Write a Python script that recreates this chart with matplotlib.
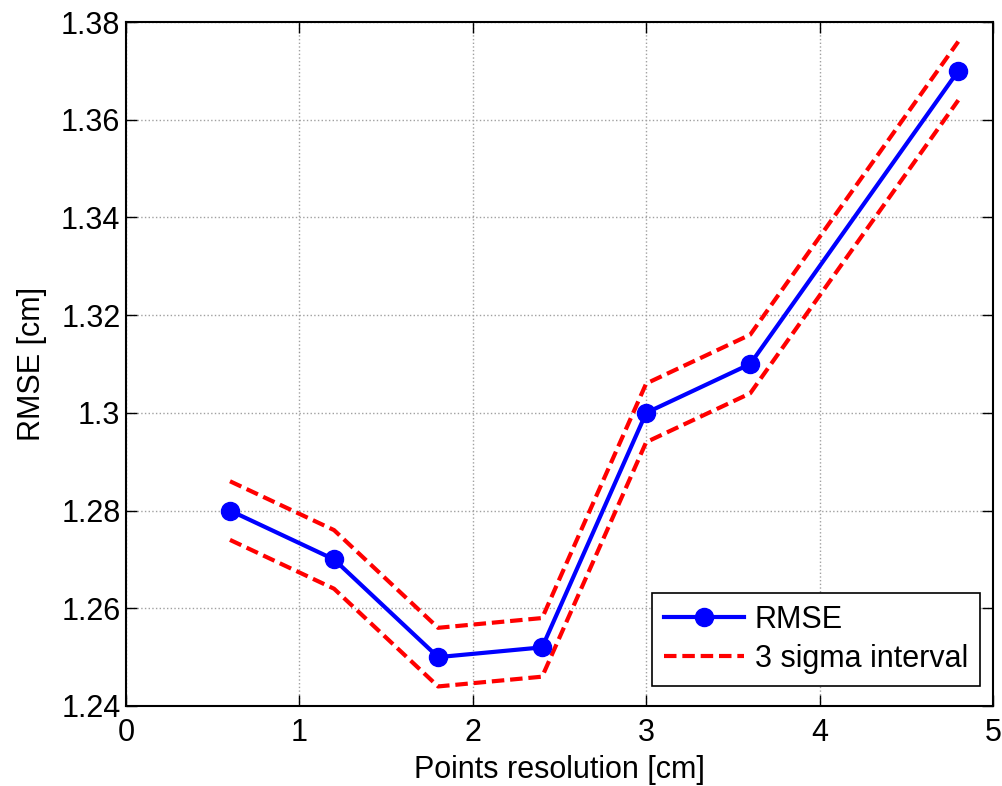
import matplotlib
matplotlib.use("Agg")
import matplotlib.pyplot as plt

plt.rcParams["font.family"] = ["Liberation Sans", "DejaVu Sans"]

resolution = [0.6, 1.2, 1.8, 2.4, 3.0, 3.6, 4.8]
rmse = [1.280, 1.270, 1.250, 1.252, 1.300, 1.310, 1.370]
sigma3 = [0.006, 0.006, 0.006, 0.006, 0.006, 0.006, 0.006]

upper = [r + s for r, s in zip(rmse, sigma3)]
lower = [r - s for r, s in zip(rmse, sigma3)]

fig = plt.figure(figsize=(10.02, 7.86), dpi=100)
ax = fig.add_axes([0.1257, 0.1018, 0.8653, 0.8702])

dash = (0, (3, 1.4))
ax.plot(resolution, rmse, color="#0000ff", linewidth=3, marker="o",
        markersize=13, label="RMSE", zorder=3)
ax.plot(resolution, upper, color="#ff0000", linewidth=3, linestyle=dash,
        label="3 sigma interval", zorder=2)
ax.plot(resolution, lower, color="#ff0000", linewidth=3, linestyle=dash,
        zorder=2)

ax.set_xlim(0, 5)
ax.set_ylim(1.24, 1.38)
ax.set_xticks([0, 1, 2, 3, 4, 5])
ax.set_xticklabels(["0", "1", "2", "3", "4", "5"])
ax.set_yticks([1.24, 1.26, 1.28, 1.30, 1.32, 1.34, 1.36, 1.38])
ax.set_yticklabels(["1.24", "1.26", "1.28", "1.3", "1.32", "1.34", "1.36", "1.38"])

ax.grid(True, color="#a0a0a0", linestyle=":", linewidth=1)
ax.tick_params(direction="in", top=True, right=True, length=8, width=1,
               labelsize=22)
ax.tick_params(axis="x", pad=9)
ax.tick_params(axis="y", pad=4)
for spine in ax.spines.values():
    spine.set_linewidth(1.5)

ax.set_xlabel("Points resolution [cm]", fontsize=22, labelpad=5)
ax.set_ylabel("RMSE [cm]", fontsize=22, labelpad=10)

leg = ax.legend(loc="lower right", bbox_to_anchor=(0.985, 0.029),
                borderaxespad=0, fontsize=22, fancybox=False, framealpha=1,
                edgecolor="black", handlelength=2.6, borderpad=0.4,
                labelspacing=0.3, handletextpad=0.35)
leg.get_frame().set_linewidth(1.2)

fig.savefig("out.png", dpi=100)
